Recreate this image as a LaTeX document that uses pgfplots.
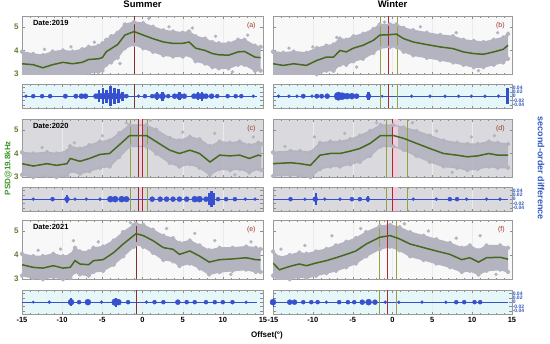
\documentclass[border=0pt]{standalone}
\usepackage{fontspec}
\setmainfont{Liberation Sans}
\usepackage{pgfplots}
\pgfplotsset{compat=1.18}
\usepgfplotslibrary{fillbetween}
\definecolor{dotgray}{RGB}{180,180,193}
\definecolor{curvegreen}{RGB}{70,105,30}
\definecolor{ticklabgreen}{RGB}{95,125,45}
\definecolor{psdgreen}{RGB}{60,150,40}
\definecolor{blobblue}{RGB}{55,80,205}
\definecolor{labblue}{RGB}{50,90,190}
\definecolor{panelred}{RGB}{150,55,35}
\definecolor{brownline}{RGB}{130,50,40}
\definecolor{redline}{RGB}{170,40,50}
\definecolor{oliveline}{RGB}{150,160,60}
\definecolor{bgrow}{RGB}{218,218,222}
\definecolor{bgcyan}{RGB}{230,247,250}
\definecolor{bgwhite}{RGB}{248,248,248}
\definecolor{pinkband}{RGB}{238,205,218}
\newcommand{\datefont}{\bfseries\fontsize{7.5}{8}\selectfont}
\newcommand{\panelfont}{\fontsize{7}{8}\selectfont}
\pgfplotsset{
  base/.style={scale only axis, anchor=north west, xmin=-15, xmax=15,
    axis line style={draw=black!40, line width=0.4pt},
    tick style={draw=black!45, line width=0.3pt},
    tick align=inside, major tick length=2.5pt, minor tick length=1.4pt,
    xtick={-15,-10,...,15}, minor x tick num=4, xticklabels={},
    xmajorgrids, grid style={black!8, line width=0.3pt},
    /pgf/number format/assume math mode=true,
    tick label style={font=\bfseries\fontsize{7.5}{8}\selectfont},
  },
  mainax/.style={base, height=58pt, ymin=3, ymax=5.45, ytick={3,4,5},
    yticklabel style={text=ticklabgreen, font=\bfseries\fontsize{8}{9}\selectfont}},
  diffax/.style={base, height=24pt, ymin=-0.055, ymax=0.055, scaled y ticks=false,
    ytick={-0.04,-0.02,0,0.02,0.04}},
  leftcol/.style={width=241pt},
  rightcol/.style={width=239pt},
  band/.style={dotgray, line width=1.4pt, mark=*, mark size=1.7pt, line join=round},
  outl/.style={only marks, mark=*, mark size=1.5pt, dotgray},
  curve/.style={curvegreen, line width=1.5pt},
  blobs/.style={scatter, only marks, mark=*, point meta=\thisrow{r},
    scatter/use mapped color={draw=blobblue, fill=blobblue},
    visualization depends on={\thisrow{r} \as \rr},
    scatter/@pre marker code/.append style={/tikz/mark size=\rr}},
  spind/.style={ycomb, blobblue, line width=2.6pt},
  zline/.style={blobblue, line width=0.9pt},
  rdiff/.style={yticklabel pos=right, yticklabels={-0.04,-0.02,0,0.02,0.04},
    yticklabel style={text=labblue, font=\bfseries\fontsize{5}{5}\selectfont, inner sep=0.6pt}},
  ldiff/.style={yticklabels={}},
  bottomx/.style={xticklabels={-15,-10,-5,0,5,10,15}},
}
\begin{document}
\begin{tikzpicture}
\path (0,0) rectangle (550pt,341pt);
% ---------------- (a)
\begin{axis}[mainax, leftcol, at={(22pt,327pt)}, axis background/.style={fill=bgwhite},
  title={Summer}, title style={font=\bfseries\fontsize{9.5}{10}\selectfont, anchor=south, at={(0.5,1)}, yshift=1pt, inner sep=1pt}]
\addplot[band, name path=U] coordinates {(-15,3.95) (-13.6,3.85) (-12.4,3.8) (-11.2,3.95) (-9.9,4.0) (-8.7,3.95) (-7.5,4.05) (-6.7,4.15) (-5.5,4.2) (-5,4.3) (-4.5,4.45) (-3.9,4.6) (-3.1,4.75) (-2.2,5.1) (-1.05,5.2) (0.1,5.15) (1.3,5.0) (2.6,4.85) (3.8,4.8) (5.0,4.75) (5.8,4.8) (6.6,4.6) (7.8,4.5) (8.7,4.35) (9.5,4.3) (10.7,4.3) (11.9,4.45) (12.7,4.45) (14,4.2) (14.7,4.15)};
\addplot[band, name path=L] coordinates {(-15,2.9) (-13.6,2.85) (-12.4,2.8) (-11.2,2.85) (-9.9,2.95) (-8.7,2.9) (-7.5,2.95) (-6.7,3.05) (-5.5,3.1) (-5,3.15) (-4.5,3.4) (-3.9,3.5) (-3.1,3.7) (-2.2,4.1) (-1.05,4.25) (0.1,4.1) (1.3,3.95) (2.6,3.8) (3.8,3.75) (5,3.75) (5.8,3.8) (6.6,3.55) (7.8,3.45) (8.7,3.3) (9.5,3.25) (10.7,3.25) (11.9,3.4) (12.7,3.4) (14,3.15) (14.7,3.15)};
\addplot[dotgray] fill between[of=U and L];
\addplot[outl] coordinates {(-12.2,4.05) (-8.9,4.15) (-6,4.35) (-2.8,3.45) (3.3,5.0) (6.2,4.95) (9.1,4.6) (11.2,3.1) (13.1,4.65) (0.8,5.35)};
\addplot[brownline, line width=0.8pt] coordinates {(-1.05,3) (-1.05,5.45)};
\addplot[curve] coordinates {(-15,3.44) (-13.6,3.40) (-12.4,3.27) (-11.2,3.40) (-9.9,3.50) (-8.7,3.44) (-7.5,3.50) (-6.7,3.62) (-5.5,3.65) (-5.0,3.70) (-4.5,3.95) (-3.9,4.08) (-3.1,4.25) (-2.2,4.65) (-1.05,4.80) (0.1,4.65) (1.3,4.50) (2.6,4.36) (3.8,4.30) (5.0,4.30) (5.8,4.36) (6.6,4.10) (7.8,4.00) (8.7,3.87) (9.5,3.82) (10.7,3.80) (11.9,3.94) (12.7,3.96) (14.0,3.72) (14.7,3.70)};
\node[anchor=north west, font=\datefont, inner sep=0pt] at (rel axis cs:0.045,0.93) {Date:2019};
\node[anchor=north east, text=panelred, font=\panelfont, inner sep=0pt] at (rel axis cs:0.97,0.9) {(a)};
\end{axis}
\begin{axis}[diffax, leftcol, ldiff, at={(22pt,259pt)}, axis background/.style={fill=bgcyan}]
\addplot[zline] coordinates {(-15,0) (14.2,0)};
\addplot[spind] coordinates {(-5.4,0.026) (-4.9,0.038) (-4.5,0.03) (-4.0,0.047) (-3.5,0.038) (-3.0,0.034) (-2.5,0.021) (1.8,0.017) (2.5,0.021) (4.6,0.017) (6.9,0.017) (7.4,0.021)};
\addplot[spind] coordinates {(-5.4,-0.026) (-4.9,-0.034) (-4.5,-0.03) (-4.0,-0.047) (-3.5,-0.034) (-3.0,-0.03) (-2.5,-0.021) (1.8,-0.017) (2.5,-0.021) (4.6,-0.017) (6.9,-0.017) (7.4,-0.021)};
\addplot[blobs] table {
x y r
-14.5 0 1.5
-13.6 0 2
-12.5 0 2
-11.5 0 2
-9.6 0 2.2
-8.3 0 2.2
-7.6 0 2.5
-7.1 0 2.5
-5.8 0 2.5
-5.4 0 3
-4.9 0 3.2
-4.5 0 3
-4.0 0 3.5
-3.5 0 3
-3.0 0 3.2
-2.5 0 2.5
-2.0 0 2
-0.5 0 1.5
0.3 0 2
1.2 0 2
1.8 0 3
2.5 0 3
3.2 0 2
4.0 0 2.5
4.6 0 3
5.2 0 2.5
6.4 0 2.5
6.9 0 3
7.4 0 3
7.9 0 2.5
8.6 0 2.5
9.3 0 2
10.6 0 2
11.6 0 2
12.3 0 2
13.8 0 1.5
};
\addplot[brownline, line width=0.8pt] coordinates {(-1.05,-0.055) (-1.05,0.055)};
\end{axis}
% ---------------- (b)
\begin{axis}[mainax, rightcol, yticklabels={}, at={(273pt,327pt)}, axis background/.style={fill=bgwhite},
  title={Winter}, title style={font=\bfseries\fontsize{9.5}{10}\selectfont, anchor=south, at={(0.5,1)}, yshift=1pt, inner sep=1pt}]
\addplot[band, name path=U] coordinates {(-15,3.95) (-13.7,3.9) (-12.4,3.95) (-10.8,3.9) (-9.5,4.1) (-8.3,4.2) (-7.4,4.25) (-6.6,4.5) (-5.8,4.45) (-4.9,4.6) (-3.7,4.7) (-2.4,4.9) (-1.6,5.1) (-0.3,5.1) (0.5,5.1) (1.4,4.95) (2.6,4.85) (4.3,4.75) (6.0,4.65) (7.6,4.6) (8.9,4.45) (10.2,4.4) (11.4,4.35) (12.7,4.45) (13.9,4.55) (14.5,4.7)};
\addplot[band, name path=L] coordinates {(-15,2.9) (-13.7,2.85) (-12.4,2.9) (-10.8,2.85) (-9.5,3.0) (-8.3,3.15) (-7.4,3.15) (-6.6,3.4) (-5.8,3.4) (-4.9,3.55) (-3.7,3.65) (-2.4,3.9) (-1.6,4.1) (-0.3,4.15) (0.5,4.15) (1.4,3.95) (2.6,3.8) (4.3,3.7) (6.0,3.6) (7.6,3.5) (8.9,3.4) (10.2,3.3) (11.4,3.3) (12.7,3.4) (13.9,3.5) (14.5,3.65)};
\addplot[dotgray] fill between[of=U and L];
\addplot[outl] coordinates {(-13,4.1) (-10,4.15) (-7,4.55) (-4.5,3.3) (-1,5.2) (3.5,5.0) (8,4.75) (10.8,3.15) (13.2,4.75)};
\addplot[oliveline, line width=0.8pt] coordinates {(-1.57,3) (-1.57,5.45)};
\addplot[redline, line width=0.8pt] coordinates {(-0.5,3) (-0.5,5.45)};
\addplot[oliveline, line width=0.8pt] coordinates {(0.6,3) (0.6,5.45)};
\addplot[curve] coordinates {(-15,3.44) (-13.7,3.37) (-12.4,3.44) (-10.8,3.37) (-9.5,3.58) (-8.3,3.72) (-7.4,3.72) (-6.6,4.00) (-5.8,3.94) (-4.9,4.10) (-3.7,4.22) (-2.4,4.43) (-1.6,4.65) (-0.3,4.67) (0.5,4.69) (1.4,4.50) (2.6,4.36) (4.3,4.25) (6.0,4.15) (7.6,4.08) (8.9,3.94) (10.2,3.87) (11.4,3.84) (12.7,3.94) (13.9,4.05) (14.5,4.22)};
\node[anchor=north east, text=panelred, font=\panelfont, inner sep=0pt] at (rel axis cs:0.97,0.9) {(b)};
\end{axis}
\begin{axis}[diffax, rightcol, rdiff, at={(273pt,259pt)}, axis background/.style={fill=bgcyan}]
\addplot[zline] coordinates {(-15,0) (14.5,0)};
\addplot[spind] coordinates {(-3.0,0.017) (14.4,0.038)};
\addplot[spind] coordinates {(-3.0,-0.017) (14.4,-0.038)};
\addplot[blobs] table {
x y r
-14.3 0 1.5
-13.0 0 1.5
-12.0 0 1.5
-11.2 0 2.2
-10.1 0 1.5
-9.5 0 2.2
-8.9 0 2.2
-8.2 0 2.5
-6.8 0 4.2
-6.3 0 3.5
-5.7 0 3
-5.1 0 3
-4.5 0 2.5
-3.0 0 2.5
-1.3 0 1.2
2.4 0 1.5
4.7 0 1.5
6.6 0 1.5
8.3 0 1.5
9.9 0 1.5
11.6 0 1.5
13.3 0 1.5
};
\addplot[oliveline, line width=0.8pt] coordinates {(-1.57,-0.055) (-1.57,0.055)};
\addplot[redline, line width=0.8pt] coordinates {(-0.5,-0.055) (-0.5,0.055)};
\addplot[oliveline, line width=0.8pt] coordinates {(0.6,-0.055) (0.6,0.055)};
\end{axis}
% ---------------- (c)
\begin{axis}[mainax, leftcol, at={(22pt,224pt)}, axis background/.style={fill=bgrow}]
\addplot[pinkband, fill=pinkband, draw=none] coordinates {(-0.55,3) (-0.05,3) (-0.05,5.45) (-0.55,5.45)} -- cycle;
\addplot[band, name path=U] coordinates {(-15,4.05) (-13.6,4.0) (-11.9,4.05) (-10.7,4.0) (-9.4,4.1) (-9.0,4.3) (-7.8,4.2) (-6.6,4.35) (-5.3,4.5) (-4.1,4.55) (-2.9,4.85) (-1.6,5.2) (0.5,5.2) (1.7,5.0) (3.4,4.65) (4.6,4.55) (5.9,4.7) (7.1,4.6) (8.4,4.3) (9.6,4.5) (10.9,4.45) (12.1,4.5) (13.3,4.35) (14.4,4.45) (14.8,4.4)};
\addplot[band, name path=L] coordinates {(-15,3.1) (-13.6,3.0) (-11.9,3.05) (-10.7,3.0) (-9.4,3.05) (-9.0,3.25) (-7.8,3.15) (-6.6,3.25) (-5.3,3.4) (-4.1,3.45) (-2.9,3.85) (-1.6,4.3) (0.5,4.3) (1.7,4.0) (3.4,3.6) (4.6,3.45) (5.9,3.55) (7.1,3.4) (8.4,3.1) (9.6,3.35) (10.9,3.3) (12.1,3.35) (13.3,3.2) (14.4,3.35) (14.8,3.3)};
\addplot[dotgray, fill opacity=0.9] fill between[of=U and L];
\addplot[outl] coordinates {(-12.5,4.25) (-8.5,4.45) (-5,4.75) (-2,5.3) (1,5.4) (5,4.9) (9,4.85) (11.5,3.1) (13.8,4.7)};
\addplot[oliveline, line width=0.8pt] coordinates {(-1.56,3) (-1.56,5.45)};
\addplot[brownline, line width=0.8pt] coordinates {(-0.55,3) (-0.55,5.45)};
\addplot[redline, line width=0.8pt] coordinates {(-0.05,3) (-0.05,5.45)};
\addplot[oliveline, line width=0.8pt] coordinates {(0.65,3) (0.65,5.45)};
\addplot[curve] coordinates {(-15,3.57) (-13.6,3.47) (-11.9,3.57) (-10.7,3.50) (-9.4,3.57) (-9.0,3.79) (-7.8,3.67) (-6.6,3.79) (-5.3,3.96) (-4.1,4.00) (-2.9,4.36) (-1.6,4.76) (0.5,4.76) (1.7,4.50) (3.4,4.14) (4.6,4.00) (5.9,4.14) (7.1,4.00) (8.4,3.64) (9.6,3.93) (10.9,3.90) (12.1,3.93) (13.3,3.79) (14.4,3.93) (14.8,3.90)};
\node[anchor=north west, font=\datefont, inner sep=0pt] at (rel axis cs:0.045,0.93) {Date:2020};
\node[anchor=north east, text=panelred, font=\panelfont, inner sep=0pt] at (rel axis cs:0.97,0.9) {(c)};
\end{axis}
\begin{axis}[diffax, leftcol, ldiff, at={(22pt,156pt)}, axis background/.style={fill=bgrow}]
\addplot[pinkband, fill=pinkband, draw=none] coordinates {(-0.55,-0.055) (-0.05,-0.055) (-0.05,0.055) (-0.55,0.055)} -- cycle;
\addplot[zline] coordinates {(-15,0) (14.5,0)};
\addplot[spind] coordinates {(-9.4,0.019) (8.3,0.026) (8.6,0.038) (8.9,0.026)};
\addplot[spind] coordinates {(-9.4,-0.019) (8.3,-0.026) (8.6,-0.038) (8.9,-0.026)};
\addplot[blobs] table {
x y r
-13.6 0 1.5
-11.2 0 2
-9.4 0 2.5
-8.4 0 1.5
-7.0 0 1.5
-5.3 0 1.5
-4.0 0 3
-3.4 0 3
-2.6 0 3
-2.0 0 2.8
1.2 0 2.5
2.2 0 2.5
3.0 0 2.5
3.8 0 2.5
4.6 0 2.5
5.5 0 2.5
6.5 0 3
7.1 0 3
7.9 0 2.5
8.6 0 3
9.4 0 2
10.4 0 2
11.5 0 2
12.8 0 1.5
14.0 0 1.5
};
\addplot[oliveline, line width=0.8pt] coordinates {(-1.56,-0.055) (-1.56,0.055)};
\addplot[brownline, line width=0.8pt] coordinates {(-0.55,-0.055) (-0.55,0.055)};
\addplot[redline, line width=0.8pt] coordinates {(-0.05,-0.055) (-0.05,0.055)};
\addplot[oliveline, line width=0.8pt] coordinates {(0.65,-0.055) (0.65,0.055)};
\end{axis}
% ---------------- (d)
\begin{axis}[mainax, rightcol, yticklabels={}, at={(273pt,224pt)}, axis background/.style={fill=bgrow}]
\addplot[pinkband, fill=pinkband, draw=none] coordinates {(0.05,3) (0.7,3) (0.7,5.45) (0.05,5.45)} -- cycle;
\addplot[band, name path=U] coordinates {(-15,4.05) (-12.8,4.1) (-11.6,4.1) (-10.3,4.05) (-9.1,4.45) (-7.8,4.5) (-6.6,4.5) (-5.3,4.6) (-4.1,4.75) (-2.8,4.95) (-1.5,5.2) (0.1,5.2) (1.4,5.1) (3.0,4.95) (4.7,4.75) (6.4,4.55) (8.1,4.45) (9.4,4.4) (10.7,4.4) (12.1,4.5) (13.2,4.45) (14.5,4.4)};
\addplot[band, name path=L] coordinates {(-15,3.05) (-12.8,3.1) (-11.6,3.05) (-10.3,3.0) (-9.1,3.35) (-7.8,3.45) (-6.6,3.45) (-5.3,3.55) (-4.1,3.65) (-2.8,3.9) (-1.5,4.3) (0.1,4.3) (1.4,4.15) (3.0,3.9) (4.7,3.65) (6.4,3.45) (8.1,3.4) (9.4,3.3) (10.7,3.35) (12.1,3.45) (13.2,3.4) (14.5,3.4)};
\addplot[dotgray, fill opacity=0.9] fill between[of=U and L];
\addplot[outl] coordinates {(-13.5,4.3) (-9.8,4.7) (-6,4.85) (-2,5.3) (2.5,5.3) (5.5,4.95) (9.9,4.7) (12.8,4.75) (7.5,3.2)};
\addplot[oliveline, line width=0.8pt] coordinates {(-0.73,3) (-0.73,5.45)};
\addplot[redline, line width=0.8pt] coordinates {(0.05,3) (0.05,5.45)};
\addplot[oliveline, line width=0.8pt] coordinates {(1.82,3) (1.82,5.45)};
\addplot[curve] coordinates {(-15,3.57) (-12.8,3.61) (-11.6,3.57) (-10.3,3.50) (-9.1,3.93) (-7.8,4.00) (-6.6,4.00) (-5.3,4.10) (-4.1,4.21) (-2.8,4.43) (-1.5,4.76) (0.1,4.76) (1.4,4.64) (3.0,4.43) (4.7,4.21) (6.4,4.00) (8.1,3.93) (9.4,3.86) (10.7,3.90) (12.1,4.00) (13.2,3.93) (14.5,3.93)};
\node[anchor=north east, text=panelred, font=\panelfont, inner sep=0pt] at (rel axis cs:0.97,0.9) {(d)};
\end{axis}
\begin{axis}[diffax, rightcol, rdiff, at={(273pt,156pt)}, axis background/.style={fill=bgrow}]
\addplot[pinkband, fill=pinkband, draw=none] coordinates {(0.05,-0.055) (0.7,-0.055) (0.7,0.055) (0.05,0.055)} -- cycle;
\addplot[zline] coordinates {(-15,0) (14.5,0)};
\addplot[spind] coordinates {(-9.6,0.026) (-3.1,0.015)};
\addplot[spind] coordinates {(-9.6,-0.026) (-3.1,-0.015)};
\addplot[blobs] table {
x y r
-12.8 0 2
-11.0 0 1.5
-9.7 0 2.5
-8.5 0 1.5
-6.6 0 1.5
-5.1 0 2
-4.1 0 2
-3.1 0 2
2.6 0 1.5
5.5 0 1.5
7.2 0 2
8.1 0 2
9.3 0 1.5
11.8 0 1.5
13.5 0 1.5
};
\addplot[oliveline, line width=0.8pt] coordinates {(-0.73,-0.055) (-0.73,0.055)};
\addplot[redline, line width=0.8pt] coordinates {(0.05,-0.055) (0.05,0.055)};
\addplot[oliveline, line width=0.8pt] coordinates {(1.82,-0.055) (1.82,0.055)};
\end{axis}
% ---------------- (e)
\begin{axis}[mainax, leftcol, height=59pt, at={(22pt,123pt)}, axis background/.style={fill=bgwhite}]
\addplot[band, name path=U] coordinates {(-15,4.05) (-13.6,3.95) (-12.4,3.95) (-11.1,4.05) (-9.9,3.95) (-9.0,4.0) (-8.4,4.3) (-7.8,4.15) (-6.7,4.15) (-6.1,4.3) (-4.9,4.35) (-3.6,4.6) (-2.4,4.95) (-1.1,5.25) (-0.8,5.3) (0.1,5.25) (1.3,5.05) (2.6,4.8) (3.8,4.7) (4.6,4.5) (5.9,4.6) (7.1,4.4) (8.3,4.2) (9.6,4.3) (11.2,4.3) (12.9,4.35) (14.1,4.3) (14.7,4.25)};
\addplot[band, name path=L] coordinates {(-15,3.15) (-13.6,3.05) (-12.4,3.0) (-11.1,3.1) (-9.9,3.0) (-9.0,3.05) (-8.4,3.3) (-7.8,3.2) (-6.7,3.15) (-6.1,3.3) (-4.9,3.35) (-3.6,3.6) (-2.4,3.95) (-1.1,4.35) (-0.8,4.45) (0.1,4.35) (1.3,4.1) (2.6,3.8) (3.8,3.75) (4.6,3.55) (5.9,3.65) (7.1,3.45) (8.3,3.2) (9.6,3.3) (11.2,3.35) (12.9,3.4) (14.1,3.3) (14.7,3.3)};
\addplot[dotgray] fill between[of=U and L];
\addplot[outl] coordinates {(-13,4.2) (-10.2,4.25) (-8.6,4.6) (-5.5,4.55) (-1.5,5.35) (3,5.1) (6.5,4.9) (9,4.6) (13.5,4.55) (11,3.2)};
\addplot[brownline, line width=0.8pt] coordinates {(-0.8,3) (-0.8,5.45)};
\addplot[curve] coordinates {(-15,3.60) (-13.6,3.49) (-12.4,3.46) (-11.1,3.56) (-9.9,3.46) (-9.0,3.49) (-8.4,3.77) (-7.8,3.63) (-6.7,3.60) (-6.1,3.77) (-4.9,3.81) (-3.6,4.10) (-2.4,4.46) (-1.1,4.81) (-0.8,4.89) (0.1,4.81) (1.3,4.60) (2.6,4.31) (3.8,4.24) (4.6,4.03) (5.9,4.17) (7.1,3.96) (8.3,3.71) (9.6,3.81) (11.2,3.84) (12.9,3.89) (14.1,3.81) (14.7,3.80)};
\node[anchor=north west, font=\datefont, inner sep=0pt] at (rel axis cs:0.045,0.93) {Date:2021};
\node[anchor=north east, text=panelred, font=\panelfont, inner sep=0pt] at (rel axis cs:0.97,0.9) {(e)};
\end{axis}
\begin{axis}[diffax, leftcol, ldiff, bottomx, at={(22pt,53pt)}, axis background/.style={fill=bgcyan}]
\addplot[zline] coordinates {(-15,0) (14.2,0)};
\addplot[spind] coordinates {(-8.9,0.017) (-3.3,0.021)};
\addplot[spind] coordinates {(-8.9,-0.017) (-3.3,-0.021)};
\addplot[blobs] table {
x y r
-13.6 0 1.2
-11.6 0 1.5
-8.9 0 3
-7.9 0 2
-6.8 0 3
-5.1 0 1.5
-3.4 0 3.5
-3.0 0 3
-1.8 0 2
0.5 0 1.5
1.5 0 2
2.6 0 2
4.4 0 2.5
5.5 0 2
6.5 0 2
7.9 0 2
9.0 0 2
10.0 0 2
11.2 0 2
12.9 0 1.5
};
\addplot[brownline, line width=0.8pt] coordinates {(-0.8,-0.055) (-0.8,0.055)};
\node[font=\fontsize{5}{5}\selectfont\rmfamily\bfseries, inner sep=0pt] at (axis cs:0,-0.055) [yshift=-14pt] {S$\rightarrow$N};
\end{axis}
% ---------------- (f)
\begin{axis}[mainax, rightcol, yticklabels={}, height=59pt, at={(273pt,123pt)}, axis background/.style={fill=bgwhite}]
\addplot[band, name path=U] coordinates {(-15,4.15) (-14.2,3.9) (-12.9,4.0) (-11.7,4.1) (-10.8,4.05) (-9.6,4.15) (-8.3,4.25) (-7.1,4.4) (-5.8,4.55) (-4.6,4.7) (-3.3,4.95) (-1.6,5.2) (-0.3,5.25) (0.9,5.15) (2.2,4.95) (3.9,4.8) (5.5,4.65) (7.2,4.5) (8.7,4.3) (9.7,4.4) (10.8,4.2) (11.8,4.4) (13.5,4.4) (14.5,4.3)};
\addplot[band, name path=L] coordinates {(-15,3.15) (-14.2,2.9) (-12.9,3.0) (-11.7,3.1) (-10.8,3.05) (-9.6,3.15) (-8.3,3.25) (-7.1,3.35) (-5.8,3.5) (-4.6,3.65) (-3.3,3.95) (-1.6,4.25) (-0.3,4.35) (0.9,4.2) (2.2,3.95) (3.9,3.8) (5.5,3.65) (7.2,3.5) (8.7,3.3) (9.7,3.35) (10.8,3.2) (11.8,3.35) (13.5,3.4) (14.5,3.3)};
\addplot[dotgray] fill between[of=U and L];
\addplot[outl] coordinates {(-14,4.25) (-11,4.4) (-7.6,4.8) (-4,5.1) (1.5,5.3) (4.5,5.0) (8,4.7) (11,4.8) (13,3.2)};
\addplot[oliveline, line width=0.8pt] coordinates {(-1.7,3) (-1.7,5.45)};
\addplot[redline, line width=0.8pt] coordinates {(-0.6,3) (-0.6,5.45)};
\addplot[oliveline, line width=0.8pt] coordinates {(0.52,3) (0.52,5.45)};
\addplot[curve] coordinates {(-15,3.67) (-14.2,3.39) (-12.9,3.53) (-11.7,3.63) (-10.8,3.56) (-9.6,3.67) (-8.3,3.77) (-7.1,3.89) (-5.8,4.03) (-4.6,4.17) (-3.3,4.46) (-1.6,4.74) (-0.3,4.81) (0.9,4.67) (2.2,4.46) (3.9,4.31) (5.5,4.17) (7.2,4.03) (8.7,3.81) (9.7,3.89) (10.8,3.71) (11.8,3.89) (13.5,3.91) (14.5,3.83)};
\node[anchor=north east, text=panelred, font=\panelfont, inner sep=0pt] at (rel axis cs:0.97,0.9) {(f)};
\end{axis}
\begin{axis}[diffax, rightcol, rdiff, bottomx, at={(273pt,53pt)}, axis background/.style={fill=bgcyan}]
\addplot[zline] coordinates {(-15,0) (14.5,0)};
\addplot[spind] coordinates {(-15,0.021)};
\addplot[spind] coordinates {(-15,-0.021)};
\addplot[blobs] table {
x y r
-15 0 3
-12.9 0 2.5
-12.3 0 2.5
-11.2 0 2
-10.2 0 2
-9.4 0 2
-8.3 0 1.5
-6.7 0 2
-5.6 0 2
-4.8 0 2
-3.8 0 2.5
-3.0 0 3
-2.2 0 2.5
-0.9 0 1.5
0.8 0 1.5
3.7 0 1.5
6.7 0 1.5
8.0 0 2
9.0 0 2
10.3 0 2
11.0 0 2
};
\addplot[oliveline, line width=0.8pt] coordinates {(-1.7,-0.055) (-1.7,0.055)};
\addplot[redline, line width=0.8pt] coordinates {(-0.6,-0.055) (-0.6,0.055)};
\addplot[oliveline, line width=0.8pt] coordinates {(0.52,-0.055) (0.52,0.055)};
\node[font=\fontsize{5}{5}\selectfont\rmfamily\bfseries, inner sep=0pt] at (axis cs:0,-0.055) [yshift=-14pt] {S$\rightarrow$N};
\end{axis}
% ---------------- outer labels
\node[rotate=90, text=psdgreen, font=\bfseries\fontsize{8}{9}\selectfont] at (8pt,175pt) {PSD@19.8kHz};
\node[rotate=-90, text=labblue, font=\bfseries\fontsize{9}{10}\selectfont] at (541pt,175pt) {second-order difference};
\node[font=\bfseries\fontsize{8}{9}\selectfont] at (267pt,8pt) {Offset(°)};
\end{tikzpicture}
\end{document}
